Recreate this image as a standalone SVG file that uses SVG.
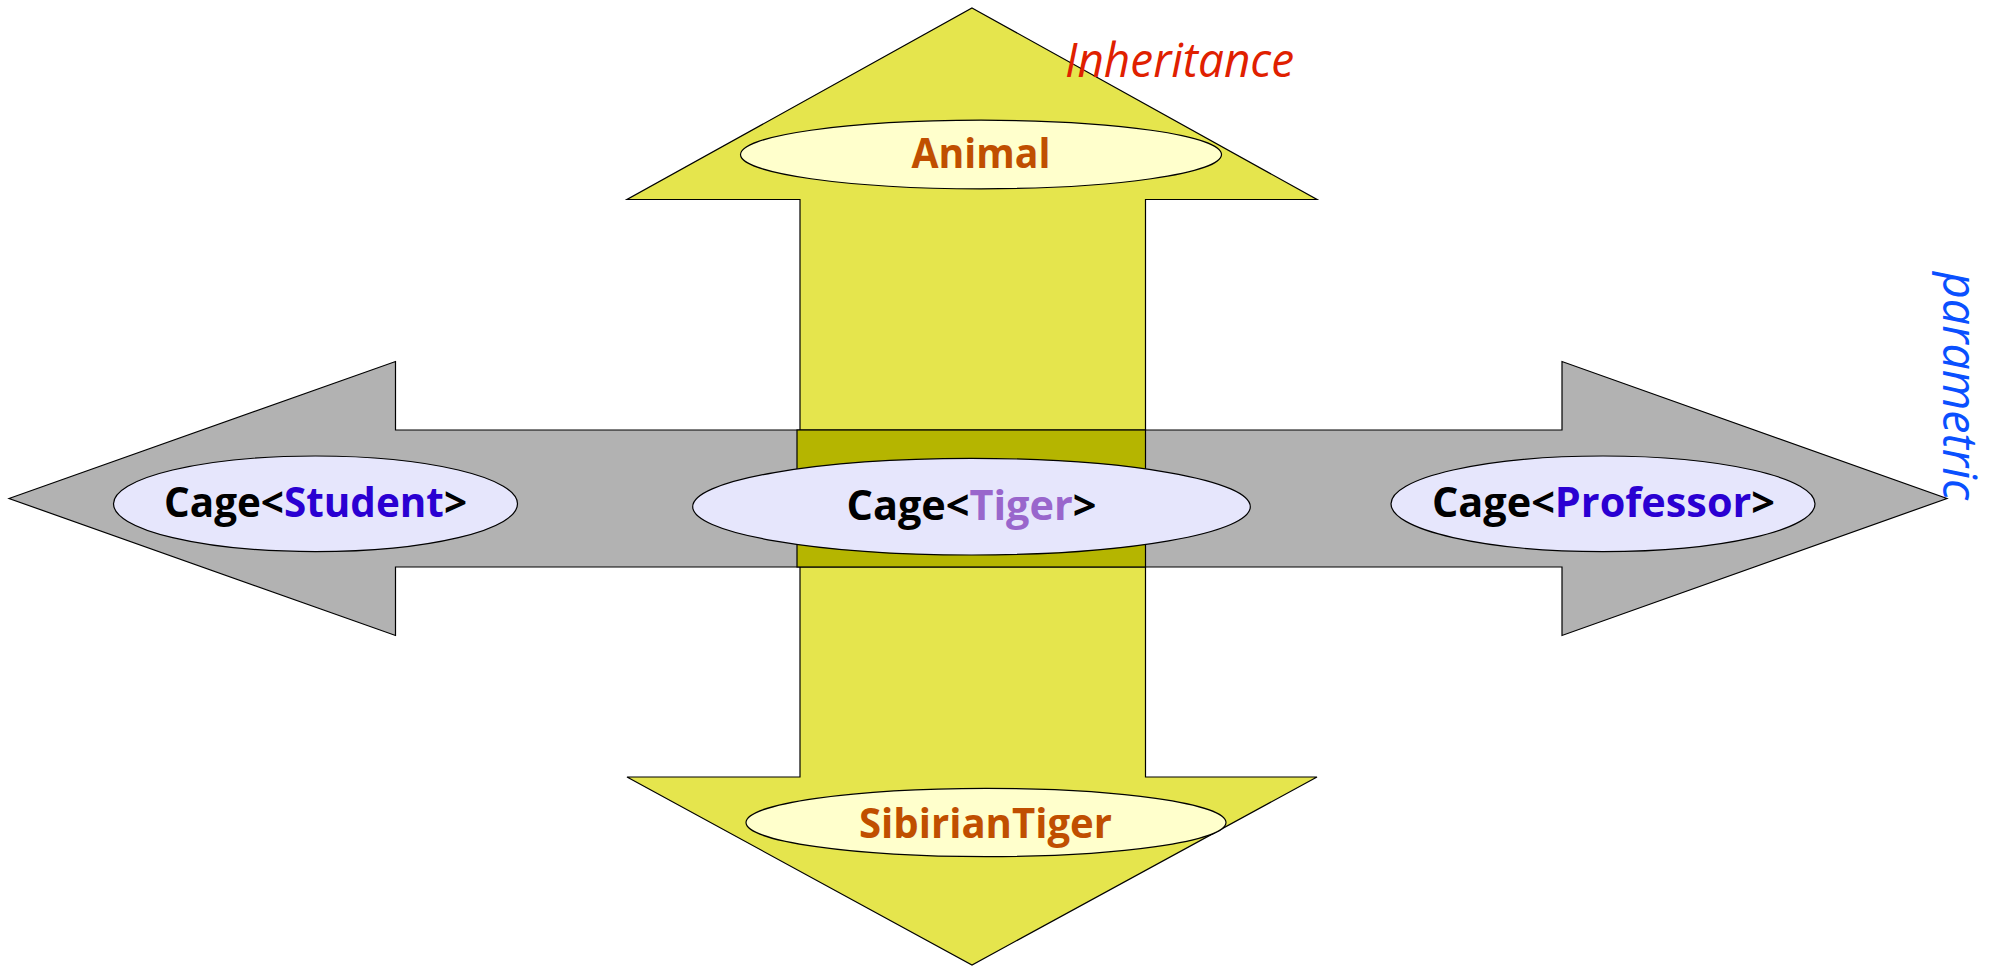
<svg xmlns="http://www.w3.org/2000/svg" width="1994" height="967" viewBox="0 0 1994 967">
  <style>
    .edge { stroke: #000; stroke-width: 1.2; stroke-linejoin: miter; }
    .inherit { fill: #e5e54d; }
    .param { fill: #b2b2b2; }
    .cross { fill: #b5b500; }
    .cls-y { fill: #ffffcc; stroke: #000; stroke-width: 1.2; }
    .cls-p { fill: #e6e6fc; stroke: #000; stroke-width: 1.2; }
    .lbl { font-family: "Open Sans", "Noto Sans", "DejaVu Sans", sans-serif; font-weight: 700; text-anchor: middle; }
    .brown { fill: #c04f00; }
    .black { fill: #000; }
    .arg { fill: #2a00d2; }
    .tiger { fill: #9966cc; }
    .axis { font-family: "Open Sans", "Noto Sans", "DejaVu Sans", sans-serif; font-style: italic; font-size: 47px; }
  </style>

  <!-- axes: vertical inheritance arrow, horizontal parametric arrow -->
  <g id="connectors">
    <polygon id="inheritance-arrow" class="inherit edge"
      points="972,8 1317,199.5 1145.5,199.5 1145.5,777 1317,777 972,965 627,777 800,777 800,199.5 627,199.5"/>
    <polygon id="parametric-arrow" class="param edge"
      points="9,498.5 395.5,361.5 395.5,430 1562,430 1562,361.5 1947,498.5 1562,635.5 1562,567 395.5,567 395.5,635.5"/>
    <rect id="crossing" class="cross edge" x="797" y="430" width="348.5" height="137"/>
  </g>

  <text class="axis" x="1065" y="77" fill="#e02000" textLength="229" lengthAdjust="spacingAndGlyphs">Inheritance</text>
  <text class="axis" x="1943" y="272" fill="#0a50ff" textLength="228" lengthAdjust="spacingAndGlyphs" transform="rotate(90 1943 272)">parametric</text>

  <g id="animal">
    <ellipse class="cls-y" cx="981" cy="154.5" rx="240.5" ry="34.3"/>
    <text class="lbl brown" x="981" y="168" font-size="42" textLength="139" lengthAdjust="spacingAndGlyphs">Animal</text>
  </g>

  <g id="sibirian-tiger">
    <ellipse class="cls-y" cx="986" cy="822.5" rx="240" ry="34.2"/>
    <text class="lbl brown" x="985.5" y="838" font-size="42" textLength="253" lengthAdjust="spacingAndGlyphs">SibirianTiger</text>
  </g>

  <g id="cage-student">
    <ellipse class="cls-p" cx="315.5" cy="503.8" rx="202" ry="47.8"/>
    <text class="lbl black" x="315.5" y="517" font-size="41" textLength="303" lengthAdjust="spacingAndGlyphs">Cage&lt;<tspan class="arg">Student</tspan>&gt;</text>
  </g>

  <g id="cage-tiger">
    <ellipse class="cls-p" cx="971.5" cy="506.7" rx="278.8" ry="48.3"/>
    <text class="lbl black" x="971.5" y="520" font-size="41" textLength="250" lengthAdjust="spacingAndGlyphs">Cage&lt;<tspan class="tiger">Tiger</tspan>&gt;</text>
  </g>

  <g id="cage-professor">
    <ellipse class="cls-p" cx="1603" cy="503.8" rx="212" ry="47.8"/>
    <text class="lbl black" x="1603.5" y="517" font-size="41" textLength="343" lengthAdjust="spacingAndGlyphs">Cage&lt;<tspan class="arg">Professor</tspan>&gt;</text>
  </g>
</svg>
